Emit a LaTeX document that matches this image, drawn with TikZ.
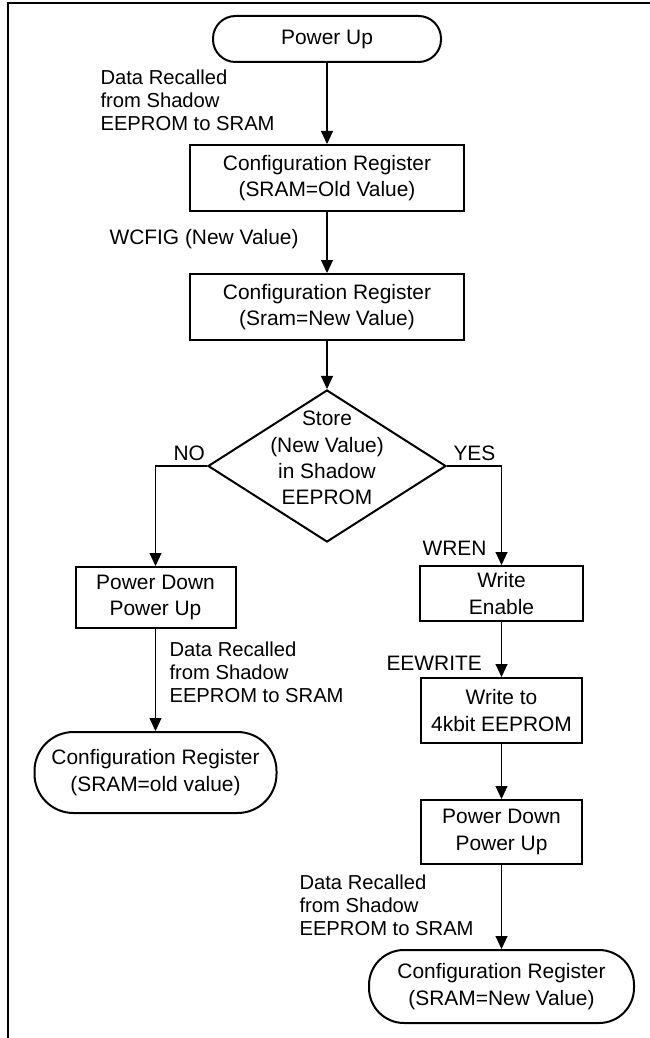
\documentclass[tikz,border=0pt]{standalone}
\usepackage{fontspec}
\setmainfont{Liberation Sans}
\usetikzlibrary{shapes.geometric, arrows.meta}

\begin{document}
\begin{tikzpicture}[
  >={Triangle[width=0.24cm, length=0.26cm]},
  line width=0.6pt,
  every node/.style={font=\fontsize{11.9pt}{15pt}\selectfont},
  box/.style={rectangle, draw, line width=0.04cm, align=center, inner sep=0},
  term/.style={box, rounded corners=0.45cm},
  decision/.style={diamond, draw, line width=0.04cm, inner sep=0},
  note/.style={align=left, anchor=west, inner sep=0},
  recall/.style={note, font=\fontsize{11.5pt}{13.2pt}\selectfont}
]
  \useasboundingbox (0, 0) rectangle (13, -20.76);
  % Frame
  \draw[line width=0.04cm] (0.16, -20.76) |- (13, -0.07);
  % Nodes
  \node (power-up) [term, minimum width=4.56cm, minimum height=0.92cm] at (6.54, -0.78) {Power Up};
  \node (cfg-old) [box, minimum width=5.48cm, minimum height=1.32cm] at (6.54, -3.56) {Configuration Register\\(SRAM=Old Value)};
  \node (cfg-new) [box, minimum width=5.48cm, minimum height=1.32cm] at (6.54, -6.14) {Configuration Register\\(Sram=New Value)};
  \node (store) [decision, minimum width=4.76cm, minimum height=3.04cm] at (6.54, -9.32) {};
  \node (store-text) [align=center] at (6.54, -9.16) {Store\\(New Value)\\in Shadow\\EEPROM};
  \node (pd-left) [box, minimum width=3.2cm, minimum height=1.22cm] at (3.11, -11.95) {Power Down\\Power Up};
  \node (cfg-old2) [term, minimum width=4.84cm, minimum height=1.62cm, rounded corners=0.78cm] at (3.11, -15.45) {Configuration Register\\(SRAM=old value)};
  \node (wr-en) [box, minimum width=3.26cm, minimum height=1.1cm] at (10.03, -11.87) {Write\\Enable};
  \node (wr-ee) [box, minimum width=3.22cm, minimum height=1.3cm] at (10.03, -14.21) {Write to\\4kbit EEPROM};
  \node (pd-right) [box, minimum width=3.22cm, minimum height=1.28cm] at (10.03, -16.64) {Power Down\\Power Up};
  \node (cfg-new2) [term, minimum width=5.3cm, minimum height=1.46cm, rounded corners=0.7cm] at (10.03, -19.73) {Configuration Register\\(SRAM=New Value)};
  % Labels
  \node (recall-top) [recall] at (2.0, -2.0) {Data Recalled\\from Shadow\\EEPROM to SRAM};
  \node (wcfig) [note] at (2.18, -4.78) {WCFIG (New Value)};
  \node (no) [note] at (3.46, -9.06) {NO};
  \node (yes) [note] at (9.06, -9.06) {YES};
  \node (wren) [note] at (8.44, -10.96) {WREN};
  \node (eewrite) [note] at (7.72, -13.26) {EEWRITE};
  \node (recall-left) [recall] at (3.38, -13.44) {Data Recalled\\from Shadow\\EEPROM to SRAM};
  \node (recall-right) [recall] at (5.98, -18.1) {Data Recalled\\from Shadow\\EEPROM to SRAM};
  % Arrow
  \draw[->] (power-up) -- (cfg-old);
  \draw[->] (cfg-old) -- (cfg-new);
  \draw[->] (cfg-new) -- (store);
  \draw[->] (store.west) -| (pd-left);
  \draw[->] (store.east) -| (wr-en);
  \draw[->] (pd-left) -- (cfg-old2);
  \draw[->] (wr-en) -- (wr-ee);
  \draw[->] (wr-ee) -- (pd-right);
  \draw[->] (pd-right) -- (cfg-new2);
\end{tikzpicture}
\end{document}
